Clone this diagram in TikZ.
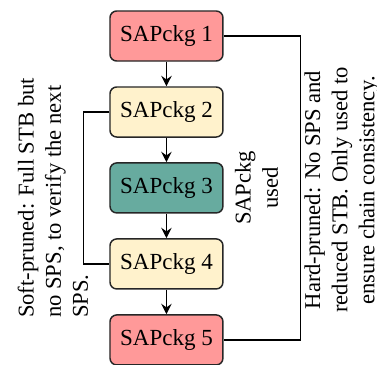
\documentclass[tikz,border=0pt]{standalone}
\usepackage{fontspec}
\setmainfont{Liberation Serif}
\usepackage{tikz}
\usetikzlibrary{positioning,arrows.meta}

\definecolor{pkgRed}{HTML}{FF9999}
\definecolor{pkgYellow}{HTML}{FFF2CC}
\definecolor{pkgTeal}{HTML}{67AB9F}

\begin{document}
\begin{tikzpicture}[%
    line width=0.65pt,
    sapckg/.style={%
        draw=black!85,
        rounded corners=3pt,
        minimum width=1.757cm,
        minimum height=0.778cm,
        inner sep=2pt,
        font=\fontsize{10.2}{12}\selectfont
    },
    pruned/.style={%
        sapckg,
        fill=pkgRed
    },
    verify/.style={%
        sapckg,
        fill=pkgYellow
    },
    used/.style={%
        sapckg,
        fill=pkgTeal
    },
    note/.style={%
        rotate=90,
        inner sep=0pt,
        font=\fontsize{10}{12}\selectfont
    },
    >={Stealth[length=4.6pt,width=4.6pt,inset=1.6pt]}
]
\useasboundingbox (0,0) rectangle (5.863,-5.676);

% Packages
    \node[pruned] (sapckg1) at (2.589,-0.560) {SAPckg 1};
    \node[verify] (sapckg2) at (2.589,-1.742) {SAPckg 2};
    \node[used] (sapckg3) at (2.589,-2.923) {SAPckg 3};
    \node[verify] (sapckg4) at (2.589,-4.105) {SAPckg 4};
    \node[pruned] (sapckg5) at (2.589,-5.287) {SAPckg 5};

% Notes
    \node[note, align=left] (softNote) at (0.824,-3.079) {Soft-pruned: Full STB but\\no SPS, to verify the next\\SPS.};
    \node[note, align=center] (usedNote) at (3.989,-2.923) {SAPckg\\used};
    \node[note, align=center] (hardNote) at (5.318,-2.955) {Hard-pruned: No SPS and\\reduced STB. Only used to\\ensure chain consistency.};

% Arrows
\draw[->] (sapckg1) -- (sapckg2);
\draw[->] (sapckg2) -- (sapckg3);
\draw[->] (sapckg3) -- (sapckg4);
\draw[->] (sapckg4) -- (sapckg5);

% Brackets
\draw (sapckg2.west) -- ++(-0.404,0) |- (sapckg4.west);
\draw (sapckg1.east) -- ++(1.198,0) |- (sapckg5.east);

\end{tikzpicture}
\end{document}
